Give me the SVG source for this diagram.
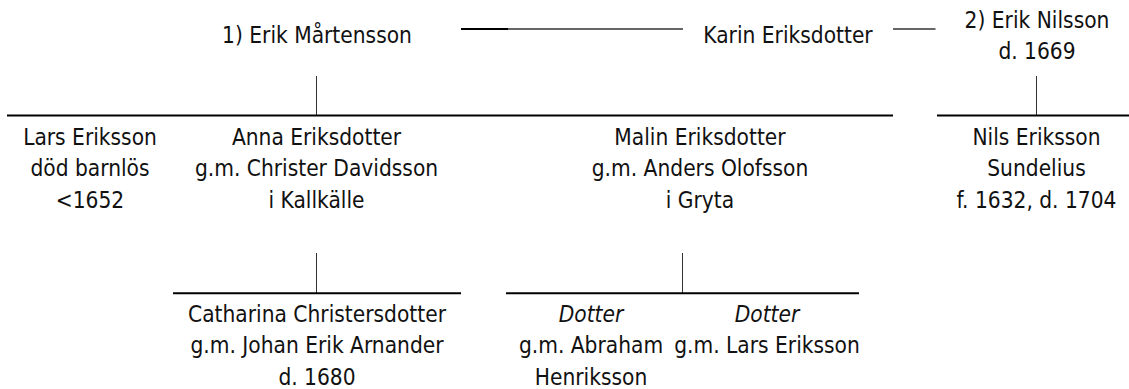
<svg xmlns="http://www.w3.org/2000/svg" width="1129" height="389" viewBox="0 0 1129 389">
<style>
text{font-family:"DejaVu Sans Condensed","DejaVu Sans",sans-serif;font-stretch:condensed;font-size:22.5px;fill:#111;text-anchor:middle}
.it{font-style:italic}
.bar{stroke:#000;stroke-width:2;fill:none}
.drop{stroke:#333;stroke-width:1;fill:none}
.gray{stroke:#666;stroke-width:2;fill:none}
</style>
<rect width="1129" height="389" fill="#fff"/>
<g id="connectors">
<path class="bar" d="M461 29H508"/>
<path class="gray" d="M508 29H683"/>
<path class="gray" d="M893 29H935.5" stroke-width="1.5"/>
<path class="drop" d="M316.5 76V115"/>
<path class="drop" d="M1036.5 76V115"/>
<path class="bar" d="M7 115.5H893"/>
<path class="bar" d="M937 115.5H1129"/>
<path class="drop" d="M316.5 253V293"/>
<path class="drop" d="M682.5 253V293"/>
<path class="bar" d="M173 293.3H461"/>
<path class="bar" d="M506 293.3H859"/>
</g>
<g id="erik-martensson"><text x="317" y="43">1) Erik Mårtensson</text></g>
<g id="karin-eriksdotter"><text x="788" y="43">Karin Eriksdotter</text></g>
<g id="erik-nilsson"><text x="1037" y="27.5">2) Erik Nilsson</text><text x="1037" y="58.5">d. 1669</text></g>
<g id="lars-eriksson"><text x="90" y="144.5">Lars Eriksson</text><text x="90" y="176">död barnlös</text><text x="90" y="207.5">&lt;1652</text></g>
<g id="anna-eriksdotter"><text x="316.5" y="144.5">Anna Eriksdotter</text><text x="316.5" y="176">g.m. Christer Davidsson</text><text x="316.5" y="207.5">i Kallkälle</text></g>
<g id="malin-eriksdotter"><text x="700" y="144.5">Malin Eriksdotter</text><text x="700" y="176">g.m. Anders Olofsson</text><text x="700" y="207.5">i Gryta</text></g>
<g id="nils-eriksson"><text x="1036.5" y="144.5">Nils Eriksson</text><text x="1036.5" y="176">Sundelius</text><text x="1036.5" y="207.5">f. 1632, d. 1704</text></g>
<g id="catharina"><text x="317" y="321.7">Catharina Christersdotter</text><text x="317" y="353.3">g.m. Johan Erik Arnander</text><text x="317" y="384.8">d. 1680</text></g>
<g id="dotter-1"><text x="591" y="321.7" class="it">Dotter</text><text x="591" y="353.3">g.m. Abraham</text><text x="591" y="384.8">Henriksson</text></g>
<g id="dotter-2"><text x="767" y="321.7" class="it">Dotter</text><text x="767" y="353.3">g.m. Lars Eriksson</text></g>
</svg>
